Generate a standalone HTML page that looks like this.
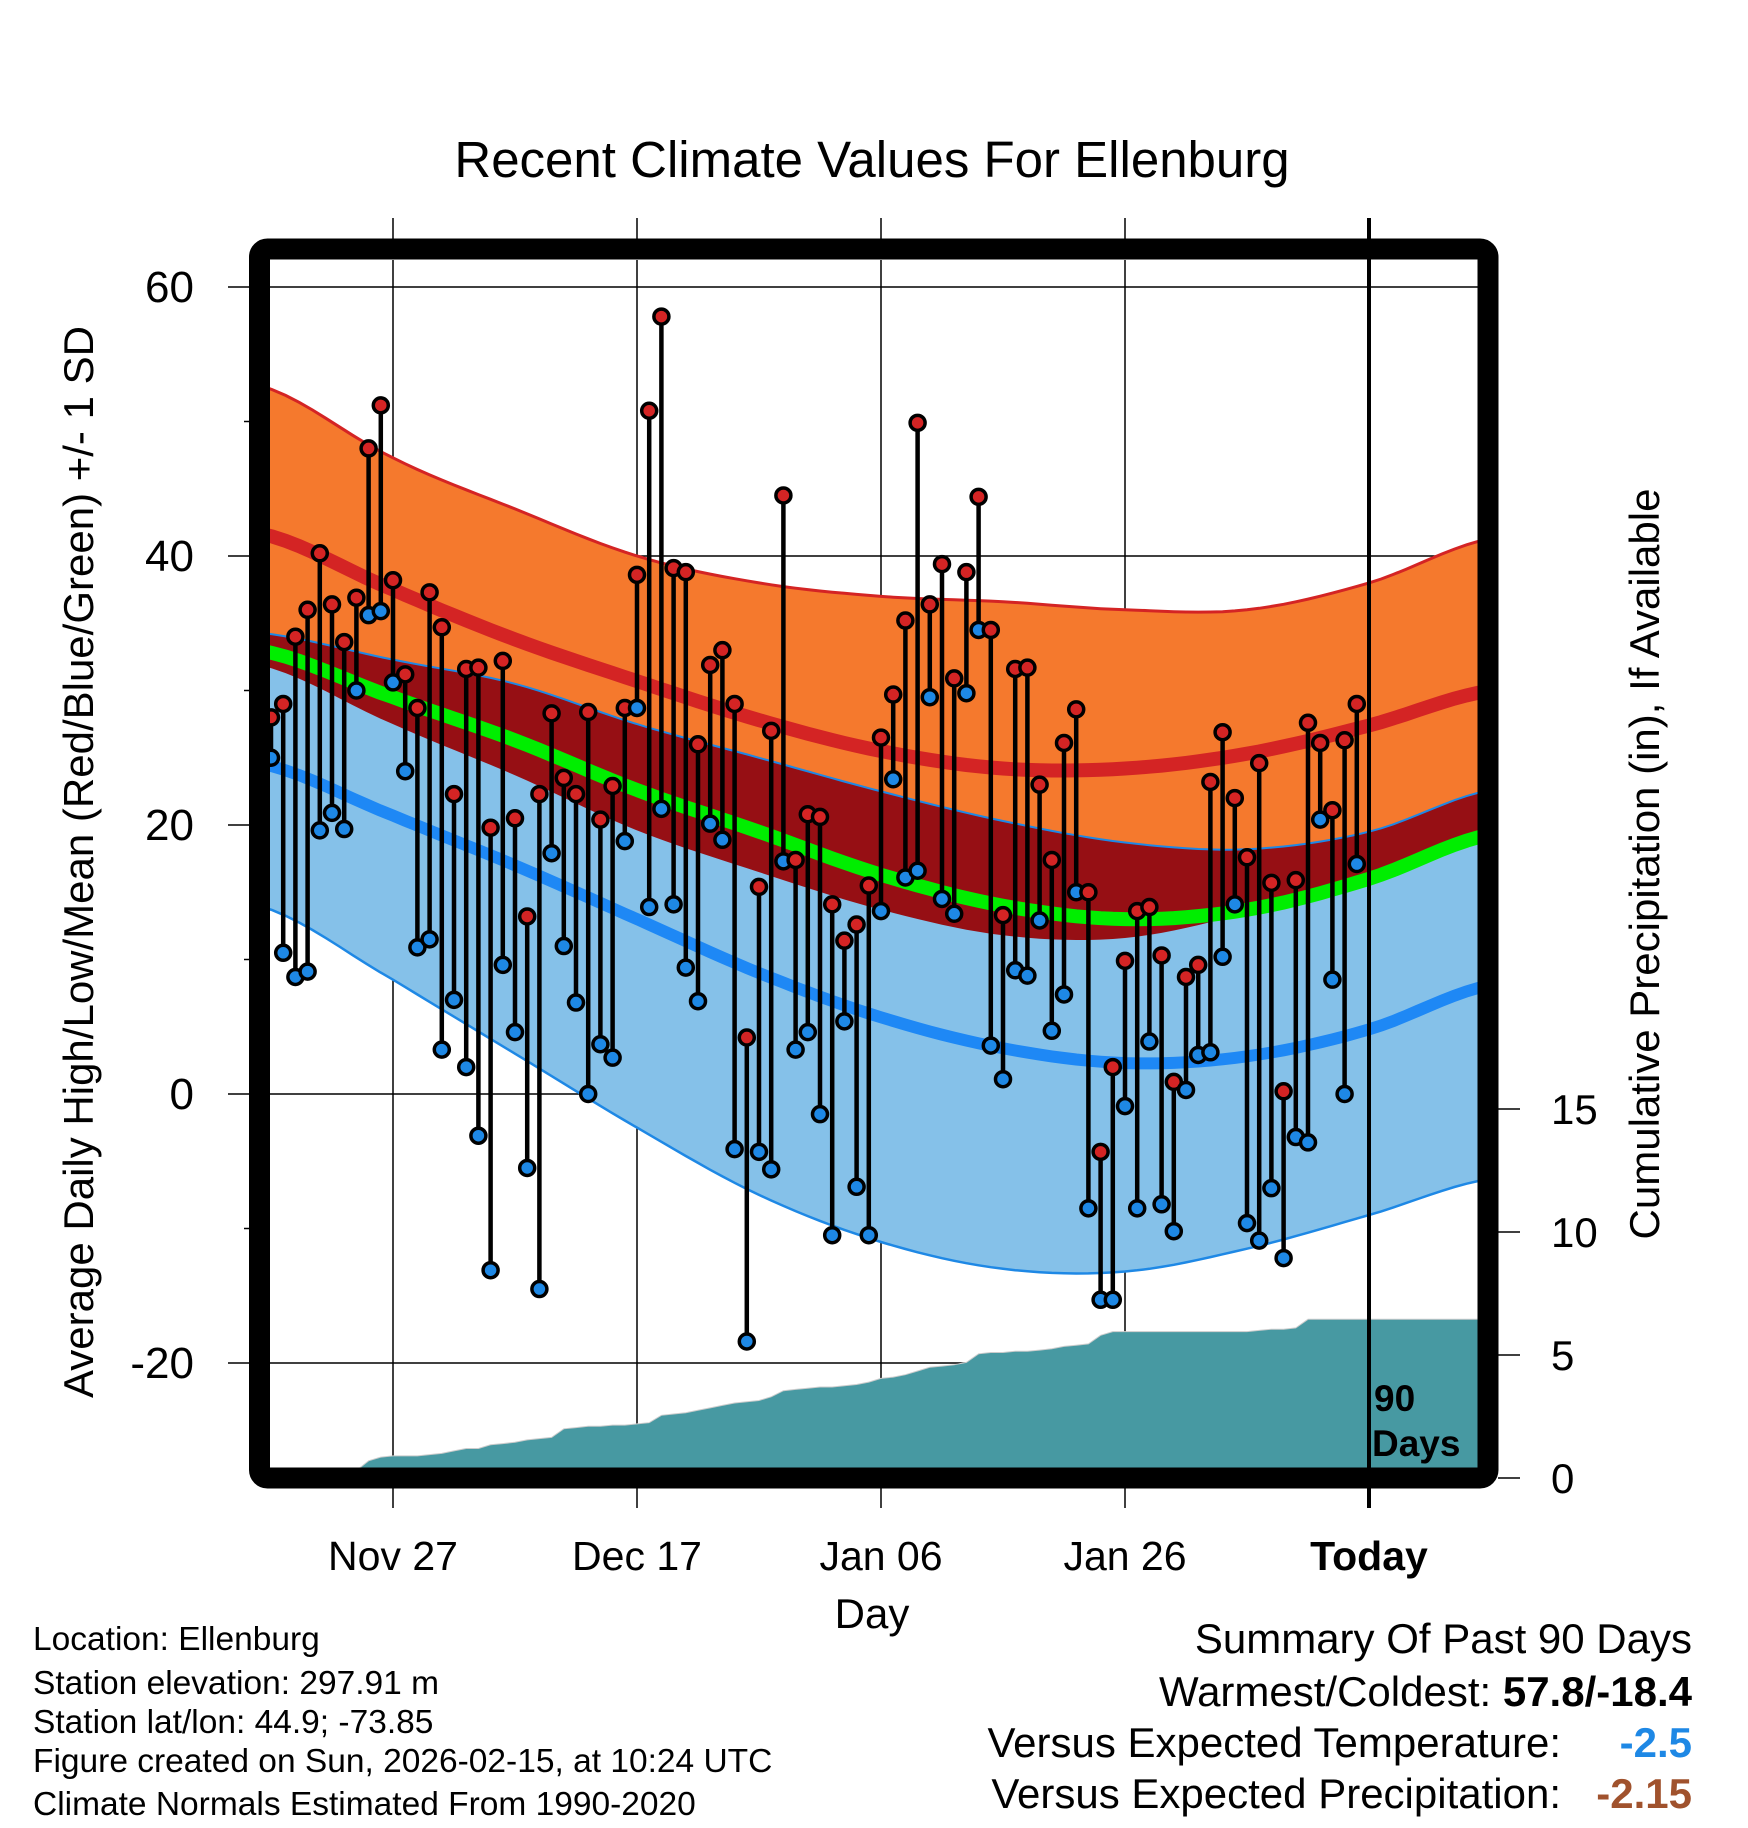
<!DOCTYPE html>
<html><head><meta charset="utf-8"><style>
html,body{margin:0;padding:0;background:#fff}
svg{display:block;font-family:"Liberation Sans",sans-serif}
</style></head><body>
<svg id="chart" width="1748" height="1828" viewBox="0 0 1748 1828" xmlns="http://www.w3.org/2000/svg">
<defs><clipPath id="plotclip"><rect x="270" y="260" width="1208" height="1208"/></clipPath></defs>
<text x="872" y="177" font-size="51" text-anchor="middle">Recent Climate Values For Ellenburg</text>
<g id="plot" clip-path="url(#plotclip)"></g>
<g id="axes"></g>
<text transform="translate(93,862) rotate(-90)" font-size="42" text-anchor="middle">Average Daily High/Low/Mean (Red/Blue/Green) +/- 1 SD</text>
<text transform="translate(1659,864) rotate(-90)" font-size="42" text-anchor="middle">Cumulative Precipitation (in), If Available</text>
<text x="872" y="1628" font-size="42" text-anchor="middle">Day</text>
<g font-size="33.5">
<text x="33" y="1650">Location: Ellenburg</text>
<text x="33" y="1694">Station elevation: 297.91 m</text>
<text x="33" y="1733">Station lat/lon: 44.9; -73.85</text>
<text x="33" y="1772">Figure created on Sun, 2026-02-15, at 10:24 UTC</text>
<text x="33" y="1815">Climate Normals Estimated From 1990-2020</text>
</g>
<g font-size="42">
<text x="1692" y="1653" text-anchor="end">Summary Of Past 90 Days</text>
<text x="1692" y="1706" text-anchor="end">Warmest/Coldest: <tspan font-weight="bold">57.8/-18.4</tspan></text>
<text x="1561" y="1757" text-anchor="end">Versus Expected Temperature:</text>
<text x="1692" y="1757" text-anchor="end" font-weight="bold" fill="#1e88e5">-2.5</text>
<text x="1561" y="1808" text-anchor="end">Versus Expected Precipitation:</text>
<text x="1692" y="1808" text-anchor="end" font-weight="bold" fill="#a0522d">-2.15</text>
</g>
</svg>
<script>
const highs=[28,29,34,36,40.2,36.4,33.6,36.9,48,51.2,38.2,31.2,28.7,37.3,34.7,22.3,31.6,31.7,19.8,32.2,20.5,13.2,22.3,28.3,23.5,22.3,28.4,20.4,22.9,28.7,38.6,50.8,57.8,39.1,38.8,26,31.9,33,29,4.2,15.4,27,44.5,17.4,20.8,20.6,14.1,11.4,12.6,15.5,26.5,29.7,35.2,49.9,36.4,39.4,30.9,38.8,44.4,34.5,13.3,31.6,31.7,23,17.4,26.1,28.6,15,-4.3,2,9.9,13.6,13.9,10.3,0.9,8.7,9.6,23.2,26.9,22,17.6,24.6,15.7,0.2,15.9,27.6,26.1,21.1,26.3,29];
const lows=[25,10.5,8.7,9.1,19.6,20.9,19.7,30,35.6,35.9,30.6,24,10.9,11.5,3.3,7,2,-3.1,-13.1,9.6,4.6,-5.5,-14.5,17.9,11,6.8,0,3.7,2.7,18.8,28.7,13.9,21.2,14.1,9.4,6.9,20.1,18.9,-4.1,-18.4,-4.3,-5.6,17.3,3.3,4.6,-1.5,-10.5,5.4,-6.9,-10.5,13.6,23.4,16.1,16.6,29.5,14.5,13.4,29.8,34.5,3.6,1.1,9.2,8.8,12.9,4.7,7.4,15,-8.5,-15.3,-15.3,-0.9,-8.5,3.9,-8.2,-10.2,0.3,2.9,3.1,10.2,14.1,-9.6,-10.9,-7,-12.2,-3.2,-3.6,20.4,8.5,0,17.1];
const precip=[0,0,0,0,0,0,0,0.3,0.7,0.85,0.9,0.9,0.9,0.95,1.0,1.1,1.2,1.2,1.35,1.4,1.45,1.55,1.6,1.65,2.0,2.05,2.1,2.1,2.15,2.15,2.2,2.25,2.55,2.6,2.65,2.75,2.85,2.95,3.05,3.1,3.15,3.3,3.55,3.6,3.65,3.7,3.7,3.75,3.8,3.9,4.05,4.1,4.2,4.35,4.5,4.55,4.6,4.7,5.05,5.1,5.1,5.15,5.15,5.2,5.25,5.35,5.4,5.45,5.8,5.95,5.95,5.95,5.95,5.95,5.95,5.95,5.95,5.95,5.95,5.95,5.95,6.0,6.05,6.05,6.1,6.45,6.45,6.45,6.45,6.45];
const normDays=[-1,10,20,30,40,50,60,70,80,90,100];
const normHighPlusSD=[52.7,47.3,43.5,40,38,37,36.6,36,36,38,41.3];
const normHigh=[41.7,37.5,33.8,30.7,27.8,25.5,24.2,24.2,25.3,27.4,30];
const normHighMinusSD=[31.9,27.5,23.7,19.6,16.5,13.7,11.8,11.6,13.5,16.5,18.9];
const normMean=[33,29.5,26.3,22.6,19.5,16.3,14,13,13.7,16,19.3];
const normLowPlusSD=[34.3,32.3,30.5,27.5,25,22.5,20.3,18.7,18.2,19.5,22.6];
const normLow=[24.6,20.7,17,13,9,5.7,3.4,2.3,2.8,4.8,8.1];
const normLowMinusSD=[14,8.5,3,-2.5,-7.5,-11,-13,-13.2,-11.5,-9,-6.3];
const yTicks=[60,40,20,0,-20];
const yMinor=[50,30,10,-10];
const pTicks=[0,5,10,15];
const xTickDays=[10,30,50,70,90];
const xTickLabels=["Nov 27","Dec 17","Jan 06","Jan 26","Today"];

const NS="http://www.w3.org/2000/svg";
const X=d=>393+(d-10)*12.2;
const YT=t=>1094-t*13.45;
const YP=p=>1478-p*24.6;
function mk(tag,attrs,parent){const e=document.createElementNS(NS,tag);for(const k in attrs)e.setAttribute(k,attrs[k]);parent.appendChild(e);return e;}
function curve(vals){
  const pts=[];
  for(let i=0;i<normDays.length-1;i++){
    const p0=vals[Math.max(i-1,0)],p1=vals[i],p2=vals[i+1],p3=vals[Math.min(i+2,vals.length-1)];
    const d1=normDays[i],d2=normDays[i+1];
    for(let s=0;s<10;s++){const t=s/10;
      const v=0.5*((2*p1)+(-p0+p2)*t+(2*p0-5*p1+4*p2-p3)*t*t+(-p0+3*p1-3*p2+p3)*t*t*t);
      pts.push([X(d1+(d2-d1)*t),YT(v)]);}
  }
  pts.push([X(normDays[normDays.length-1]),YT(vals[vals.length-1])]);
  return pts;
}
const P=pts=>pts.map((p,i)=>(i?'L':'M')+p[0].toFixed(1)+','+p[1].toFixed(1)).join('');
function band(a,b){const ca=curve(a),cb=curve(b).reverse();return P(ca)+P(cb).replace('M','L')+'Z';}
const plot=document.getElementById('plot');
const axes=document.getElementById('axes');

yTicks.forEach(t=>{const l=mk('line',{x1:270,x2:1478,y1:YT(t),y2:YT(t),stroke:'#000','stroke-width':1.5},plot);

});
xTickDays.slice(0,4).forEach(d=>{const l=mk('line',{x1:X(d),x2:X(d),y1:260,y2:1468,stroke:'#000','stroke-width':1.5},plot);

});

let e;
e=mk('path',{d:band(normHighPlusSD,normHighMinusSD),fill:'#f5792d'},plot);


e=mk('path',{d:band(normLowPlusSD,normLowMinusSD),fill:'#85c1e9'},plot);


e=mk('path',{d:band(normLowPlusSD,normHighMinusSD),fill:'#960f14'},plot);


e=mk('path',{d:P(curve(normHighPlusSD)),fill:'none',stroke:'#d42424','stroke-width':3},plot);


e=mk('path',{d:P(curve(normLowPlusSD)),fill:'none',stroke:'#1e88e5','stroke-width':2},plot);


e=mk('path',{d:P(curve(normLowMinusSD)),fill:'none',stroke:'#1e88e5','stroke-width':2.5},plot);


e=mk('path',{d:P(curve(normHigh)),fill:'none',stroke:'#d42424','stroke-width':14},plot);


e=mk('path',{d:P(curve(normMean)),fill:'none',stroke:'#00ee00','stroke-width':14},plot);


e=mk('path',{d:P(curve(normLow)),fill:'none',stroke:'#1e88f5','stroke-width':12},plot);



let pd='M'+X(0)+','+YP(0);
precip.forEach((v,i)=>{pd+='L'+X(i).toFixed(1)+','+YP(v).toFixed(1);});
pd+='L1480,'+YP(precip[precip.length-1]).toFixed(1)+'L1480,'+YP(0)+'L260,'+YP(0)+'Z';
e=mk('path',{d:pd,fill:'#4799a2',stroke:'#ccc','stroke-width':1},plot);



e=mk('line',{x1:X(90),x2:X(90),y1:218,y2:1508,stroke:'#000','stroke-width':4},axes);



highs.forEach((h,i)=>{
  const s=mk('line',{x1:X(i),x2:X(i),y1:YT(h),y2:YT(lows[i]),stroke:'#000','stroke-width':4.5},plot);
  
  
});
highs.forEach((h,i)=>{
  const c1=mk('circle',{cx:X(i),cy:YT(h),r:7.5,fill:'#d42424',stroke:'#000','stroke-width':3.5},plot);
  
  
  const c2=mk('circle',{cx:X(i),cy:YT(lows[i]),r:7.5,fill:'#1e88e5',stroke:'#000','stroke-width':3.5},plot);
  
  
});

e=mk('text',{x:1374,y:1411,'font-size':37,'font-weight':'bold'},plot);e.textContent='90';


e=mk('text',{x:1372,y:1456,'font-size':37,'font-weight':'bold'},plot);e.textContent='Days';



e=mk('rect',{x:259.5,y:249,width:1228.5,height:1229,rx:8,fill:'none',stroke:'#000','stroke-width':21},axes);



yTicks.forEach(t=>{
  const l=mk('line',{x1:228,x2:250,y1:YT(t),y2:YT(t),stroke:'#000','stroke-width':1.5},axes);
  
  
  const tx=mk('text',{x:194,y:YT(t)+15,'font-size':44,'text-anchor':'end'},axes);tx.textContent=t;
  
  
});
yMinor.forEach(t=>{
  const l=mk('line',{x1:244,x2:250,y1:YT(t),y2:YT(t),stroke:'#000','stroke-width':1.5},axes);
  
  
});
pTicks.forEach(p=>{
  const l=mk('line',{x1:1498,x2:1520,y1:YP(p),y2:YP(p),stroke:'#000','stroke-width':1.5},axes);
  
  
  const tx=mk('text',{x:1551,y:YP(p)+15,'font-size':42},axes);tx.textContent=p;
  
  
});
xTickDays.forEach((d,i)=>{
  const l=mk('line',{x1:X(d),x2:X(d),y1:218,y2:249,stroke:'#000','stroke-width':1.5},axes);
  
  
  const l2=mk('line',{x1:X(d),x2:X(d),y1:1478,y2:1508,stroke:'#000','stroke-width':1.5},axes);
  
  
  const tx=mk('text',{x:X(d),y:1570,'font-size':41,'text-anchor':'middle'},axes);tx.textContent=xTickLabels[i];
  if(i===4)tx.setAttribute('font-weight','bold');
  
  
});
</script>
</body></html>
